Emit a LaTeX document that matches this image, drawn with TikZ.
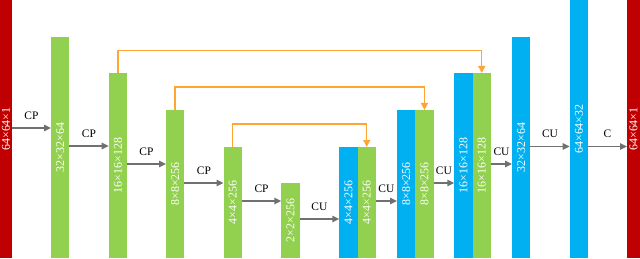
\documentclass[tikz,border=0pt]{standalone}
\usepackage{fontspec}
\setmainfont{Liberation Serif}
\usetikzlibrary{arrows.meta,calc}
\definecolor{barred}{RGB}{192,0,0}
\definecolor{bargreen}{RGB}{146,208,80}
\definecolor{barblue}{RGB}{0,176,240}
\definecolor{skiporange}{RGB}{255,165,50}
\definecolor{arrgray}{RGB}{112,112,112}
\begin{document}
\begin{tikzpicture}[x=1bp,y=1bp,
  bar/.style={anchor=south west, inner sep=0, outer sep=0, minimum width=18.3bp},
  barlbl/.style={rotate=90, text=white, font=\fontsize{12}{14}\selectfont, inner sep=0},
  arr/.style={draw=arrgray, line width=1.4bp, -{Triangle[length=7bp,width=6.5bp]}},
  arrlbl/.style={above=8bp, inner sep=0, font=\fontsize{11.5}{13}\selectfont},
  skip/.style={draw=skiporange, line width=1.4bp, -{Triangle[length=7bp,width=7bp]}}]
\useasboundingbox (0,0) rectangle (640,258);
% bars
\node[bar, fill=barred, minimum width=12bp, minimum height=258bp] (b1) at (0,0) {};
\node[bar, fill=bargreen, minimum height=221bp] (b2) at (51,0) {};
\node[bar, fill=bargreen, minimum height=185bp] (b3) at (108.7,0) {};
\node[bar, fill=bargreen, minimum height=148bp] (b4) at (166,0) {};
\node[bar, fill=bargreen, minimum height=111bp] (b5) at (223.5,0) {};
\node[bar, fill=bargreen, minimum height=75bp] (b6) at (281.3,0) {};
\node[bar, fill=barblue, minimum height=111bp] (b7a) at (339.3,0) {};
\node[bar, fill=bargreen, minimum height=111bp] (b7b) at (357.6,0) {};
\node[bar, fill=barblue, minimum height=148bp] (b8a) at (397,0) {};
\node[bar, fill=bargreen, minimum height=148bp] (b8b) at (415.3,0) {};
\node[bar, fill=barblue, minimum height=185bp] (b9a) at (454.3,0) {};
\node[bar, fill=bargreen, minimum height=185bp] (b9b) at (472.6,0) {};
\node[bar, fill=barblue, minimum height=221bp] (b10) at (512,0) {};
\node[bar, fill=barblue, minimum height=258bp] (b11) at (569.7,0) {};
\node[bar, fill=barred, minimum width=13bp, minimum height=258bp] (b12) at (627,0) {};
% bar labels
\node[barlbl] at (b1.center) {64×64×1};
\node[barlbl] at (b2.center) {32×32×64};
\node[barlbl] at (b3.center) {16×16×128};
\node[barlbl] at (b4.center) {8×8×256};
\node[barlbl] at (b5.center) {4×4×256};
\node[barlbl] at (b6.center) {2×2×256};
\node[barlbl] at (b7a.center) {4×4×256};
\node[barlbl] at (b7b.center) {4×4×256};
\node[barlbl] at (b8a.center) {8×8×256};
\node[barlbl] at (b8b.center) {8×8×256};
\node[barlbl] at (b9a.center) {16×16×128};
\node[barlbl] at (b9b.center) {16×16×128};
\node[barlbl] at (b10.center) {32×32×64};
\node[barlbl] at (b11.center) {64×64×32};
\node[barlbl] at (b12.center) {64×64×1};
% arrows
\draw[arr] ($(b1.south east)+(0,130)$) -- node[arrlbl]{CP} ($(b2.south west)+(0,130)$);
\draw[arr] ($(b2.south east)+(0,112)$) -- node[arrlbl]{CP} ($(b3.south west)+(0,112)$);
\draw[arr] ($(b3.south east)+(0,94)$) -- node[arrlbl]{CP} ($(b4.south west)+(0,94)$);
\draw[arr] ($(b4.south east)+(0,75)$) -- node[arrlbl]{CP} ($(b5.south west)+(0,75)$);
\draw[arr] ($(b5.south east)+(0,57)$) -- node[arrlbl]{CP} ($(b6.south west)+(0,57)$);
\draw[arr] ($(b6.south east)+(0,39)$) -- node[arrlbl]{CU} ($(b7a.south west)+(0,39)$);
\draw[arr] ($(b7b.south east)+(0,57)$) -- node[arrlbl]{CU} ($(b8a.south west)+(0,57)$);
\draw[arr] ($(b8b.south east)+(0,75)$) -- node[arrlbl]{CU} ($(b9a.south west)+(0,75)$);
\draw[arr] ($(b9b.south east)+(0,94)$) -- node[arrlbl]{CU} ($(b10.south west)+(0,94)$);
\draw[arr] ($(b10.south east)+(0,111.5)$) -- node[arrlbl]{CU} ($(b11.south west)+(0,111.5)$);
\draw[arr] ($(b11.south east)+(0,111.5)$) -- node[arrlbl]{C} ($(b12.south west)+(0,111.5)$);
% skip connections
\draw[skip] (b3.north) -- ++(0,22.5) -| (b9b.north);
\draw[skip] (b4.north) -- ++(0,23) -| (b8b.north);
\draw[skip] (b5.north) -- ++(0,23) -| (b7b.north);
\end{tikzpicture}
\end{document}
